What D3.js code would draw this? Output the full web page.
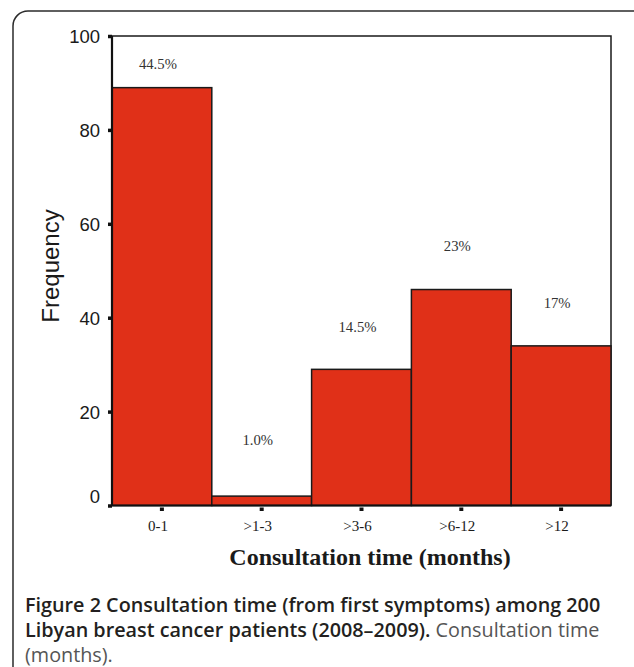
<!DOCTYPE html>
<html>
<head>
<meta charset="utf-8">
<script src="https://cdn.jsdelivr.net/npm/d3@7"></script>
<style>
  body { margin: 0; background: #fff; }
  svg { display: block; }
</style>
</head>
<body>
<div id="chart-area"></div>
<script>
// DATA
var categories = ["0-1", ">1-3", ">3-6", ">6-12", ">12"];
var frequency = [89, 2, 29, 46, 34];
var percentLabels = ["44.5%", "1.0%", "14.5%", "23%", "17%"];
// height (in frequency units) where each percent label sits
var labelAt = [94, 14, 38, 55.3, 43.2];
var yTicks = [0, 20, 40, 60, 80, 100];

var W = 634, H = 667;
var plot = { left: 112, right: 611, top: 36, bottom: 505.5 };

var svg = d3.select("#chart-area")
    .append("svg")
    .attr("width", W)
    .attr("height", H);

// outer rounded frame
svg.append("rect")
    .attr("x", 13)
    .attr("y", 11)
    .attr("width", 640)
    .attr("height", 700)
    .attr("rx", 15)
    .attr("fill", "none")
    .attr("stroke", "#2b2b2b")
    .attr("stroke-width", 1.5);

// X Scale
var x = d3.scaleBand()
    .domain(categories)
    .range([plot.left, plot.right])
    .padding(0);

// Y SCALE
var y = d3.scaleLinear()
    .domain([0, 100])
    .range([plot.bottom, plot.top]);

// plot frame (top + right)
svg.append("path")
    .attr("d", "M" + plot.left + "," + y(100) + "H" + plot.right + "V" + plot.bottom)
    .attr("fill", "none")
    .attr("stroke", "#1a1a1a")
    .attr("stroke-width", 1.5);

// BARS
svg.selectAll("rect.bar")
    .data(frequency)
    .enter()
    .append("rect")
    .attr("class", "bar")
    .attr("x", function (d, i) { return x(categories[i]); })
    .attr("width", x.bandwidth())
    .attr("y", function (d) { return y(d); })
    .attr("height", function (d) { return y(0) - y(d); })
    .attr("fill", "#e03018")
    .attr("stroke", "#1a1a1a")
    .attr("stroke-width", 1.5);

// PERCENT LABELS
svg.selectAll("text.pct")
    .data(percentLabels)
    .enter()
    .append("text")
    .attr("class", "pct")
    .attr("x", function (d, i) { return x(categories[i]) + x.bandwidth() / 2 - 4; })
    .attr("y", function (d, i) { return y(labelAt[i]); })
    .attr("dy", "0.35em")
    .attr("text-anchor", "middle")
    .attr("font-family", "'Liberation Serif', 'Times New Roman', serif")
    .attr("font-size", "14.7px")
    .attr("fill", "#333")
    .text(function (d) { return d; });

// Y AXIS
var yAxisGroup = svg.append("g")
    .attr("transform", "translate(" + plot.left + ",0)")
    .call(d3.axisLeft(y).tickValues(yTicks).tickSize(4).tickPadding(8));

yAxisGroup.select(".domain").remove();
yAxisGroup.selectAll(".tick line")
    .attr("stroke", "#111")
    .attr("stroke-width", 3.5);
yAxisGroup.selectAll(".tick text")
    .attr("font-family", "'Liberation Sans', Arial, sans-serif")
    .attr("font-size", "18.5px")
    .attr("fill", "#1a1a1a")
    .attr("dy", function (d) { return d === 0 ? "-0.15em" : "0.35em"; });

// X AXIS
var xAxisGroup = svg.append("g")
    .attr("transform", "translate(0," + plot.bottom + ")")
    .call(d3.axisBottom(x).tickSize(0).tickPadding(15));

xAxisGroup.select(".domain").remove();
xAxisGroup.selectAll(".tick text")
    .attr("dx", -4)
    .attr("font-family", "'Liberation Serif', 'Times New Roman', serif")
    .attr("font-size", "15px")
    .attr("fill", "#1a1a1a");
xAxisGroup.selectAll(".tick")
    .append("rect")
    .attr("x", -2)
    .attr("y", 2)
    .attr("width", 4)
    .attr("height", 3.5)
    .attr("fill", "#111");

// axis lines
svg.append("path")
    .attr("d", "M" + plot.left + "," + y(100) + "V" + plot.bottom + "H" + plot.right)
    .attr("fill", "none")
    .attr("stroke", "#111")
    .attr("stroke-width", 2.2);

// X LABEL
svg.append("text")
    .attr("x", 370)
    .attr("y", 565)
    .attr("text-anchor", "middle")
    .attr("font-family", "'Liberation Serif', 'Times New Roman', serif")
    .attr("font-weight", "bold")
    .attr("font-size", "24px")
    .attr("fill", "#1a1a1a")
    .text("Consultation time (months)");

// Y LABEL
svg.append("text")
    .attr("transform", "translate(59," + 266 + ") rotate(-90)")
    .attr("text-anchor", "middle")
    .attr("font-family", "'Liberation Sans', Arial, sans-serif")
    .attr("font-size", "24px")
    .attr("fill", "#1a1a1a")
    .text("Frequency");

// CAPTION
var captionLines = [
    [{ t: "Figure 2 Consultation time (from first symptoms) among 200", b: true }],
    [{ t: "Libyan breast cancer patients (2008\u20132009).", b: true }, { t: " Consultation time", b: false }],
    [{ t: "(months).", b: false }]
];

var caption = svg.append("text")
    .attr("font-family", "'Open Sans', 'Noto Sans', sans-serif")
    .attr("font-size", "19.8px");

captionLines.forEach(function (line, li) {
    line.forEach(function (part, pi) {
        var s = caption.append("tspan")
            .attr("font-weight", part.b ? 600 : 400)
            .attr("fill", part.b ? "#231f20" : "#555")
            .text(part.t);
        if (pi === 0) s.attr("x", 25).attr("y", 612 + li * 25);
    });
});
</script>
</body>
</html>
